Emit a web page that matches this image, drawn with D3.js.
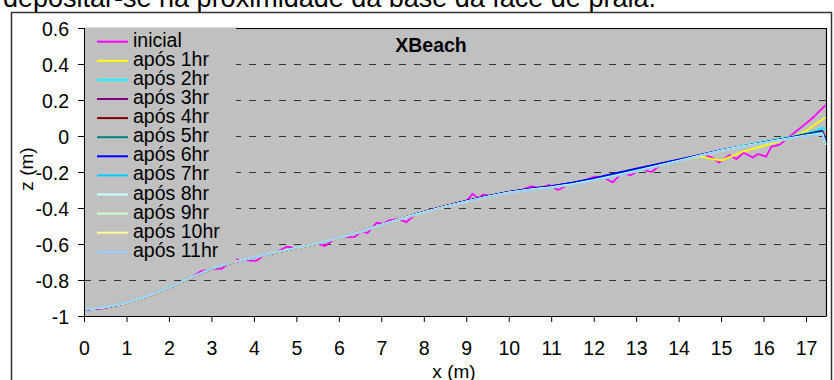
<!DOCTYPE html>
<html><head><meta charset="utf-8">
<script src="https://cdn.jsdelivr.net/npm/d3@7/dist/d3.min.js"></script>
<style>
html,body{margin:0;padding:0;background:#fff;}
svg{display:block;font-family:"Liberation Sans",Arial,sans-serif;}
</style></head>
<body><svg id="c" width="834" height="380"></svg>
<script>
// ---------- data ----------
const seriesNames = ["inicial","após 1hr","após 2hr","após 3hr","após 4hr","após 5hr","após 6hr","após 7hr","após 8hr","após 9hr","após 10hr","após 11hr"];
const seriesColors = ["#FF00FF","#FFFF00","#00FFFF","#800080","#800000","#008080","#0000FF","#00CCFF","#CCFFFF","#CCFFCC","#FFFF99","#99CCFF"];
const xTicks = [0,1,2,3,4,5,6,7,8,9,10,11,12,13,14,15,16,17];
const yTicks = [-1,-0.8,-0.6,-0.4,-0.2,0,0.2,0.4,0.6];

// initial profile (irregular sampling)
const xInicial = [0,0.25,0.4,0.6,0.9,1.25,1.5,1.75,2.0,2.25,2.5,2.75,3.0,3.25,3.5,3.75,4.05,4.25,4.5,4.77,5.0,5.25,5.5,5.67,5.9,6.1,6.38,6.55,6.67,6.89,7.05,7.2,7.4,7.59,7.8,8.0,8.25,8.5,8.75,9.0,9.15,9.28,9.4,9.6,9.85,10.1,10.3,10.53,10.75,10.96,11.16,11.4,11.7,12.02,12.25,12.45,12.65,12.88,13.1,13.36,13.6,13.85,14.1,14.35,14.6,14.8,14.96,15.2,15.36,15.53,15.75,15.87,16.06,16.18,16.38,16.65,17.0,17.2,17.46];
const zInicial = [-0.965,-0.960,-0.960,-0.950,-0.935,-0.910,-0.893,-0.864,-0.845,-0.814,-0.792,-0.752,-0.738,-0.736,-0.686,-0.690,-0.694,-0.660,-0.650,-0.615,-0.625,-0.608,-0.598,-0.612,-0.572,-0.563,-0.560,-0.527,-0.540,-0.482,-0.488,-0.467,-0.462,-0.478,-0.437,-0.423,-0.405,-0.393,-0.376,-0.363,-0.322,-0.345,-0.326,-0.334,-0.320,-0.310,-0.300,-0.280,-0.290,-0.272,-0.300,-0.270,-0.256,-0.226,-0.232,-0.258,-0.208,-0.217,-0.184,-0.200,-0.157,-0.143,-0.130,-0.117,-0.104,-0.122,-0.148,-0.106,-0.128,-0.093,-0.120,-0.100,-0.115,-0.060,-0.048,0.004,0.070,0.110,0.172];

// later profiles (shared sampling)
const xHours = [0,0.5,1,1.5,2,2.5,3,3.5,4,4.5,5,5.5,6,6.5,7,7.5,8,8.5,9,9.5,10,10.5,11,11.5,12,12.5,13,13.5,14,14.5,15,15.5,16,16.5,17,17.2,17.38,17.46];
const z1hr  = [-0.963,-0.955,-0.930,-0.893,-0.845,-0.792,-0.740,-0.704,-0.677,-0.650,-0.625,-0.600,-0.570,-0.534,-0.495,-0.459,-0.425,-0.394,-0.364,-0.338,-0.314,-0.297,-0.284,-0.266,-0.240,-0.214,-0.188,-0.162,-0.138,-0.115,-0.137,-0.088,-0.055,-0.020,0.028,0.062,0.090,0.105];
const z2hr  = [-0.966,-0.951,-0.926,-0.888,-0.841,-0.789,-0.736,-0.701,-0.674,-0.647,-0.622,-0.597,-0.567,-0.531,-0.492,-0.456,-0.422,-0.391,-0.362,-0.336,-0.312,-0.295,-0.282,-0.264,-0.243,-0.218,-0.191,-0.164,-0.136,-0.106,-0.078,-0.054,-0.032,-0.010,0.014,0.028,0.045,0.040];
const z3hr  = [-0.965,-0.953,-0.929,-0.891,-0.844,-0.791,-0.738,-0.703,-0.676,-0.649,-0.623,-0.598,-0.568,-0.532,-0.493,-0.457,-0.422,-0.390,-0.360,-0.334,-0.310,-0.293,-0.280,-0.261,-0.237,-0.211,-0.184,-0.158,-0.132,-0.106,-0.080,-0.058,-0.037,-0.015,0.010,0.020,0.030,-0.015];
const z4hr  = [-0.965,-0.953,-0.929,-0.891,-0.844,-0.791,-0.738,-0.703,-0.676,-0.649,-0.624,-0.599,-0.569,-0.533,-0.494,-0.457,-0.422,-0.390,-0.361,-0.335,-0.311,-0.294,-0.280,-0.261,-0.238,-0.212,-0.185,-0.159,-0.133,-0.107,-0.081,-0.058,-0.036,-0.014,0.009,0.019,0.028,-0.025];
const z5hr  = [-0.966,-0.952,-0.928,-0.890,-0.843,-0.790,-0.737,-0.702,-0.675,-0.648,-0.623,-0.598,-0.568,-0.532,-0.493,-0.457,-0.423,-0.391,-0.362,-0.336,-0.312,-0.295,-0.282,-0.263,-0.240,-0.214,-0.187,-0.161,-0.134,-0.107,-0.080,-0.057,-0.036,-0.015,0.007,0.016,0.025,-0.030];
const z6hr  = [-0.966,-0.953,-0.929,-0.890,-0.843,-0.790,-0.737,-0.702,-0.675,-0.648,-0.623,-0.598,-0.568,-0.531,-0.492,-0.456,-0.421,-0.389,-0.360,-0.334,-0.310,-0.293,-0.279,-0.259,-0.235,-0.208,-0.181,-0.156,-0.131,-0.105,-0.079,-0.057,-0.036,-0.015,0.006,0.016,0.026,-0.035];
const z7hr  = [-0.964,-0.951,-0.927,-0.889,-0.842,-0.789,-0.736,-0.701,-0.674,-0.647,-0.622,-0.597,-0.567,-0.532,-0.493,-0.457,-0.423,-0.392,-0.363,-0.337,-0.313,-0.297,-0.284,-0.266,-0.244,-0.219,-0.192,-0.165,-0.137,-0.108,-0.080,-0.057,-0.036,-0.016,0.004,0.012,0.020,-0.040];
const z8hr  = [-0.965,-0.952,-0.928,-0.890,-0.843,-0.790,-0.737,-0.702,-0.675,-0.648,-0.623,-0.598,-0.568,-0.533,-0.494,-0.458,-0.424,-0.393,-0.364,-0.338,-0.315,-0.298,-0.286,-0.269,-0.247,-0.222,-0.195,-0.168,-0.139,-0.109,-0.081,-0.058,-0.038,-0.018,0.002,0.008,0.014,-0.045];
const z9hr  = [-0.964,-0.951,-0.927,-0.889,-0.842,-0.789,-0.736,-0.701,-0.674,-0.647,-0.622,-0.597,-0.567,-0.533,-0.494,-0.458,-0.424,-0.393,-0.364,-0.338,-0.315,-0.298,-0.286,-0.269,-0.247,-0.222,-0.195,-0.168,-0.139,-0.110,-0.082,-0.059,-0.039,-0.019,0.001,0.007,0.012,-0.048];
const z10hr = [-0.965,-0.952,-0.928,-0.890,-0.843,-0.790,-0.737,-0.702,-0.675,-0.648,-0.623,-0.598,-0.568,-0.533,-0.494,-0.458,-0.424,-0.393,-0.364,-0.338,-0.315,-0.299,-0.287,-0.270,-0.248,-0.223,-0.196,-0.169,-0.140,-0.110,-0.082,-0.059,-0.039,-0.019,0.001,0.006,0.011,-0.050];
const z11hr = [-0.964,-0.951,-0.927,-0.889,-0.842,-0.789,-0.737,-0.702,-0.675,-0.648,-0.623,-0.598,-0.568,-0.534,-0.495,-0.459,-0.425,-0.394,-0.365,-0.339,-0.316,-0.300,-0.288,-0.271,-0.249,-0.224,-0.197,-0.170,-0.141,-0.111,-0.083,-0.060,-0.040,-0.020,0.000,0.005,0.010,-0.052];

const captionText = "depositar-se na proximidade da base da face de praia.";
const chartTitle = "XBeach";
const xLabel = "x (m)";
const yLabel = "z (m)";

// ---------- build ----------
const seriesData = [
  xInicial.map((x,i)=>[x,zInicial[i]]),
  ...[z1hr,z2hr,z3hr,z4hr,z5hr,z6hr,z7hr,z8hr,z9hr,z10hr,z11hr].map(zs => xHours.map((x,i)=>[x,zs[i]]))
];

const svg = d3.select("#c");
const L = 84, R = 826, T = 28, B = 316;
const x = d3.scaleLinear().domain([0,17.47]).range([L,R]);
const y = d3.scaleLinear().domain([-1,0.6]).range([B,T]);
const FONT = 19.5;

// caption (cut off at top)
svg.append("text").attr("x",3).attr("y",7).attr("font-size",27).attr("fill","#000").text(captionText);

// outer chart frame
svg.append("rect").attr("x",11.5).attr("y",12.5).attr("width",820).attr("height",380)
  .attr("fill","#fff").attr("stroke","#333").attr("stroke-width",1.5);

// plot area
svg.append("rect").attr("x",L).attr("y",T).attr("width",R-L).attr("height",B-T).attr("fill","#C0C0C0");

// gridlines
svg.append("g").selectAll("line").data(yTicks.filter(v=>v>-1 && v<0.6)).join("line")
  .attr("x1",L).attr("x2",R)
  .attr("y1",d=>Math.round(y(d))+0.5).attr("y2",d=>Math.round(y(d))+0.5)
  .attr("stroke","#333").attr("stroke-width",1).attr("stroke-dasharray","7,8");

// plot border (top + right)
svg.append("path").attr("d",`M${L},${T+0.5}H${R+0.5}V${B}`).attr("fill","none").attr("stroke","#000").attr("stroke-width",1.2);

// series
const line = d3.line().x(d=>x(d[0])).y(d=>y(d[1]));
const gS = svg.append("g");
seriesData.forEach((d,i)=>{
  gS.append("path").datum(d).attr("d",line).attr("fill","none")
    .attr("stroke",seriesColors[i]).attr("stroke-width",1.8).attr("stroke-linejoin","round");
});

// legend
const lg = svg.append("g");
lg.append("rect").attr("x",L+1).attr("y",T-0.5).attr("width",151).attr("height",236).attr("fill","#C0C0C0");
seriesNames.forEach((n,i)=>{
  const by = 46.7 + i*19.1;
  lg.append("line").attr("x1",97).attr("x2",128).attr("y1",by-5).attr("y2",by-5)
    .attr("stroke",seriesColors[i]).attr("stroke-width",2);
  lg.append("text").attr("x",133).attr("y",by).attr("font-size",FONT).attr("fill","#000").text(n);
});

// axes
const fmt = d => String(+d.toFixed(1));
const xa = svg.append("g").attr("transform",`translate(0,${B})`)
  .call(d3.axisBottom(x).tickValues(xTicks).tickSize(6).tickSizeOuter(0).tickFormat(d3.format("d")));
xa.select(".domain").attr("stroke","#000");
xa.selectAll(".tick line").attr("stroke","#000");
xa.selectAll("text").attr("y",39).attr("dy",0).attr("font-size",FONT).attr("font-family","Liberation Sans, Arial, sans-serif").attr("fill","#000");

const ya = svg.append("g").attr("transform",`translate(${L},0)`)
  .call(d3.axisLeft(y).tickValues(yTicks).tickSize(6).tickSizeOuter(0).tickFormat(fmt));
ya.select(".domain").attr("stroke","#000");
ya.selectAll(".tick line").attr("stroke","#000");
ya.selectAll("text").attr("x",-15).attr("dy","0.36em").attr("font-size",FONT).attr("font-family","Liberation Sans, Arial, sans-serif").attr("fill","#000");

// title & axis labels
svg.append("text").attr("x",431).attr("y",52).attr("text-anchor","middle").attr("font-size",19.5).attr("font-weight","bold").text(chartTitle);
svg.append("text").attr("x",454).attr("y",378).attr("text-anchor","middle").attr("font-size",19).text(xLabel);
svg.append("text").attr("transform","translate(33,169) rotate(-90)").attr("text-anchor","middle").attr("font-size",19).text(yLabel);
</script></body></html>
